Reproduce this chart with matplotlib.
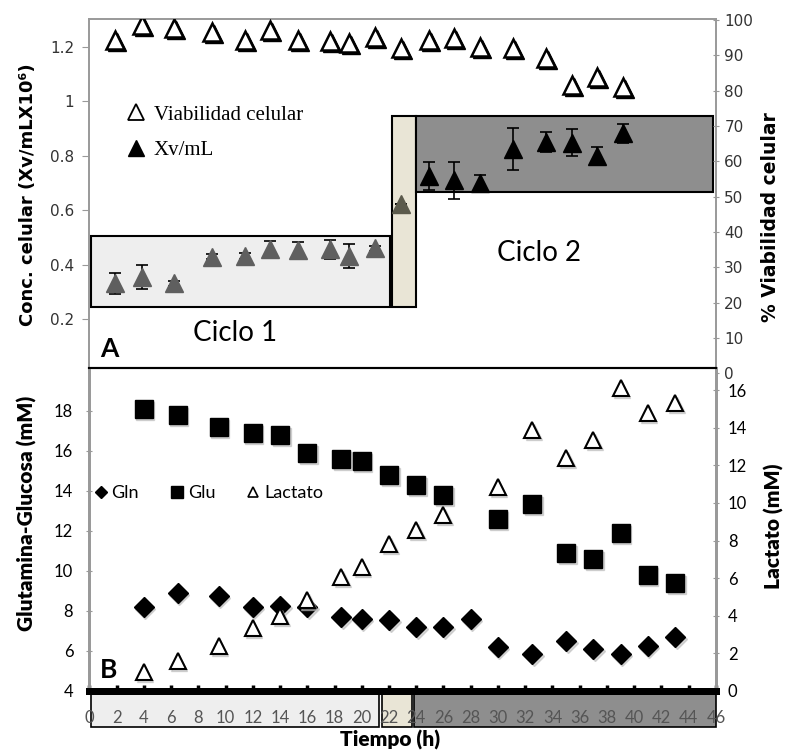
import matplotlib
matplotlib.use("Agg")
import matplotlib.pyplot as plt
import matplotlib.transforms as mtransforms
from matplotlib.patches import Rectangle
from matplotlib.lines import Line2D

# ---- Panel A: concentracion celular y viabilidad ----
t_a = [1.9, 3.9, 6.2, 9.0, 11.4, 13.3, 15.3, 17.7, 19.1, 21.0,
       22.9, 24.9, 26.8, 28.7, 31.1, 33.5, 35.4, 37.3, 39.2]
viab = [94.5, 98.6, 97.7, 96.5, 94.4, 97.2, 94.4, 94.2, 93.6, 95.3,
        92.0, 94.5, 94.8, 92.3, 92.0, 89.2, 81.6, 84.0, 81.0]
xv = [0.331, 0.355, 0.331, 0.429, 0.431, 0.456, 0.453, 0.456, 0.431, 0.459,
      0.622, 0.725, 0.710, 0.698, 0.823, 0.851, 0.847, 0.798, 0.881]
xv_sd = [0.039, 0.045, 0.01, 0.01, 0.01, 0.03, 0.03, 0.035, 0.045, 0.01,
         0.0, 0.05, 0.068, 0.03, 0.077, 0.037, 0.05, 0.034, 0.034]
n_ciclo1 = 10   # puntos del ciclo 1, luego 1 de transicion, luego ciclo 2

# ---- Panel B: metabolitos ----
t_b = [4, 6.5, 9.5, 12, 14, 16, 18.5, 20, 22, 24, 26, 30, 32.5, 35, 37, 39, 41, 43]
glu = [18.1, 17.8, 17.2, 16.9, 16.8, 15.9, 15.6, 15.5, 14.8, 14.3, 13.8,
       12.6, 13.35, 10.9, 10.6, 11.9, 9.8, 9.4]
lact = [1.03, 1.61, 2.39, 3.33, 3.99, 4.84, 6.05, 6.58, 7.82, 8.56, 9.36,
        10.87, 13.88, 12.38, 13.35, 16.1, 14.77, 15.3]
t_gln = [4, 6.5, 9.5, 12, 14, 16, 18.5, 20, 22, 24, 26, 28, 30, 32.5, 35, 37, 39, 41, 43]
gln = [8.2, 8.88, 8.77, 8.18, 8.27, 8.22, 7.72, 7.58, 7.55, 7.18, 7.18, 7.6,
       6.22, 5.83, 6.5, 6.08, 5.85, 6.27, 6.72]

# zonas de ciclo (tiempo inicio, fin)
ciclo1 = (0.1, 22.1)
trans = (22.2, 24.0)
ciclo2 = (24.0, 45.8)

c_light = "#eeeeee"
c_beige = "#e9e5d6"
c_dark = "#8e8e8e"
c_spine = "#999999"

fig = plt.figure(figsize=(7.86, 7.55), dpi=100)

# ================= Panel A =================
ax_a = fig.add_axes([0.1136, 0.5053, 0.7973, 0.4695])
ax_a2 = ax_a.twinx()

ax_a.set_xlim(0, 46)
ax_a.set_ylim(0, 1.301)
ax_a2.set_ylim(0, 100.3)

ax_a.add_patch(Rectangle((ciclo1[0], 0.244), ciclo1[1] - ciclo1[0], 0.505 - 0.244,
                         facecolor=c_light, edgecolor="black", lw=1.5, zorder=1))
ax_a.add_patch(Rectangle((trans[0], 0.244), trans[1] - trans[0], 0.945 - 0.244,
                         facecolor=c_beige, edgecolor="black", lw=1.5, zorder=1))
ax_a.add_patch(Rectangle((ciclo2[0], 0.665), ciclo2[1] - ciclo2[0], 0.945 - 0.665,
                         facecolor=c_dark, edgecolor="black", lw=1.5, zorder=1))

k = n_ciclo1
groups = [(slice(0, k), "#5f5f5f"), (slice(k, k + 1), "#5b5a4c"), (slice(k + 1, None), "black")]
for sl, col in groups:
    ax_a.errorbar(t_a[sl], xv[sl], yerr=xv_sd[sl], fmt="^", ms=13, color=col,
                  mec=col, ecolor="black", elinewidth=1.2, capsize=4, capthick=1.2, zorder=3)

shadow = mtransforms.offset_copy(ax_a2.transData, fig=fig, x=2, y=-2, units="dots")
ax_a2.plot(t_a, viab, "^", ms=13, color="black", transform=shadow, zorder=3)
ax_a2.plot(t_a, viab, "^", ms=13, mfc="white", mec="black", mew=1.8, zorder=4)

ax_a.text(10.7, 0.15, "Ciclo 1", ha="center", va="center", fontsize=20, family="Lato")
ax_a.text(33.0, 0.442, "Ciclo 2", ha="center", va="center", fontsize=20, family="Lato")
ax_a.text(0.8, 0.09, "A", ha="left", va="center", fontsize=19, fontweight="bold", family="Lato")

h1 = Line2D([], [], ls="none", marker="^", ms=11, mfc="white", mec="black", mew=1.3)
h2 = Line2D([], [], ls="none", marker="^", ms=11, color="black")
ax_a.legend([h1, h2], ["Viabilidad celular", "Xv/mL"], loc="upper left",
            bbox_to_anchor=(0.025, 0.81), frameon=False, labelspacing=0.75,
            handletextpad=0.25, handlelength=1.2,
            prop={"family": "Liberation Serif", "size": 15})

ax_a.set_yticks([0.2, 0.4, 0.6, 0.8, 1.0, 1.2])
ax_a.set_yticklabels(["0.2", "0.4", "0.6", "0.8", "1", "1.2"])
ax_a2.set_yticks(range(0, 101, 10))
ax_a.set_xticks([])
ax_a.tick_params(axis="y", labelsize=11, length=5, color=c_spine, labelcolor="#333333", pad=6)
ax_a2.tick_params(axis="y", labelsize=11, length=5, direction="inout", color=c_spine,
                  labelcolor="#333333")
for a in (ax_a, ax_a2):
    for s in a.spines.values():
        s.set_color(c_spine)
        s.set_linewidth(1.2)
    a.spines["bottom"].set_visible(False)

ax_a.set_ylabel("Conc. celular (Xv/mLX10⁶)", fontsize=13, fontweight="bold")
ax_a2.set_ylabel("% Viabilidad celular", fontsize=13.5, fontweight="bold")
ax_a.yaxis.set_label_coords(-0.083, 0.505)
ax_a2.yaxis.set_label_coords(1.072, 0.44)

# ================= Panel B =================
ax_b = fig.add_axes([0.1136, 0.0848, 0.7973, 0.4278])
ax_b2 = ax_b.twinx()

ax_b.set_xlim(0, 46)
ax_b.set_ylim(4, 20.15)
ax_b2.set_ylim(0, 17.18)

sh_b = mtransforms.offset_copy(ax_b.transData, fig=fig, x=1.5, y=-2, units="dots")
sh_b2 = mtransforms.offset_copy(ax_b2.transData, fig=fig, x=1.5, y=-2, units="dots")
ax_b.plot(t_b, glu, "s", ms=12.5, color="#bbbbbb", alpha=0.6, transform=sh_b, zorder=2)
ax_b.plot(t_gln, gln, "D", ms=10, color="#bbbbbb", alpha=0.6, transform=sh_b, zorder=2)
ax_b2.plot(t_b, lact, "^", ms=11, color="#bbbbbb", alpha=0.6, transform=sh_b2, zorder=2)
ax_b.plot(t_gln, gln, "D", ms=10, color="black", zorder=3)
ax_b.plot(t_b, glu, "s", ms=12.5, color="black", zorder=3)
ax_b2.plot(t_b, lact, "^", ms=11, mfc="white", mec="black", mew=1.5, zorder=3)

ax_b.text(0.8, 5.05, "B", ha="left", va="center", fontsize=19, fontweight="bold", family="Lato")

hg = Line2D([], [], ls="none", marker="D", ms=6, color="black")
hs = Line2D([], [], ls="none", marker="s", ms=8, color="black")
hl = Line2D([], [], ls="none", marker="^", ms=7, mfc="white", mec="black", mew=1.2)
ax_b.legend([hg, hs, hl], ["Gln", "Glu", "Lactato"], ncol=3, loc="center left",
            bbox_to_anchor=(-0.022, 0.613), frameon=False, handletextpad=0.1,
            handlelength=1.0, columnspacing=1.6, prop={"family": "Lato", "size": 13})

# cajas de ciclo bajo el eje x
bt = mtransforms.blended_transform_factory(ax_b.transData, ax_b.transAxes)
for (x0, x1), col in [((0.1, 21.3), c_light), ((21.5, 23.7), c_beige), ((23.8, 46.0), c_dark)]:
    ax_b.add_patch(Rectangle((x0, -0.112), x1 - x0, 0.106, transform=bt, clip_on=False,
                             facecolor=col, edgecolor="black", lw=1.2, zorder=0.5))

ax_b.set_xticks(range(0, 47, 2))
ax_b.set_yticks(range(4, 19, 2))
ax_b2.set_yticks(range(0, 17, 2))
ax_b.tick_params(axis="x", direction="in", length=4, width=2.5, color="black",
                 labelsize=12, labelcolor="#555555", pad=14)
for lab in ax_b.get_xticklabels() + ax_b.get_yticklabels() + ax_b2.get_yticklabels():
    lab.set_family("Lato")
ax_b.tick_params(axis="y", direction="inout", length=5, color=c_spine, labelsize=12, pad=9)
ax_b2.tick_params(axis="y", direction="inout", length=5, color=c_spine, labelsize=12, pad=6)

for a in (ax_b, ax_b2):
    a.spines["left"].set_color(c_spine)
    a.spines["left"].set_linewidth(2)
    a.spines["right"].set_color(c_spine)
    a.spines["right"].set_linewidth(2)
    a.spines["top"].set_color("black")
    a.spines["top"].set_linewidth(1.5)
    a.spines["bottom"].set_color("black")
    a.spines["bottom"].set_linewidth(5)

ax_b.set_ylabel("Glutamina-Glucosa (mM)", fontsize=15, fontweight="heavy", family="Lato")
ax_b2.set_ylabel("Lactato (mM)", fontsize=15, fontweight="heavy", family="Lato")
ax_b.yaxis.set_label_coords(-0.083, 0.55)
ax_b2.yaxis.set_label_coords(1.076, 0.511)
fig.text(390 / 786, 1 - 740 / 755, "Tiempo (h)", ha="center", va="center",
         fontsize=15, fontweight="heavy", family="Lato")

fig.savefig("out.png", dpi=100)
